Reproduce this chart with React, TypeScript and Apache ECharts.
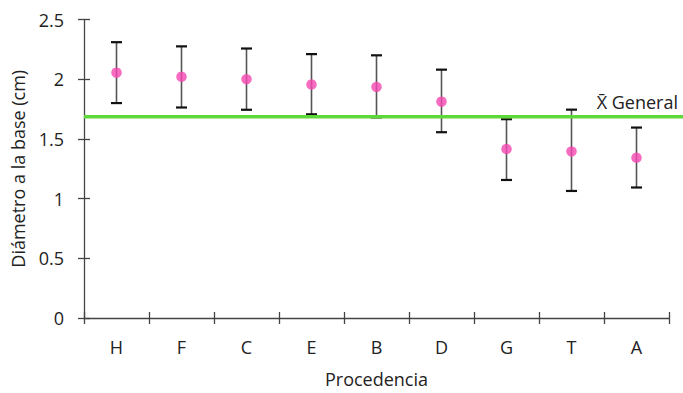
import React, { useEffect, useRef } from "react";
import * as echarts from "echarts";

const categories = ["H", "F", "C", "E", "B", "D", "G", "T", "A"];
const means = [2.055, 2.02, 2.0, 1.955, 1.935, 1.812, 1.415, 1.395, 1.342];
const upper = [2.31, 2.275, 2.257, 2.21, 2.2, 2.08, 1.665, 1.745, 1.595];
const lower = [1.8, 1.763, 1.744, 1.706, 1.68, 1.556, 1.156, 1.064, 1.093];
const generalMean = 1.685;
const yTicks = { min: 0, max: 2.5, interval: 0.5 };

const FONT = "Open Sans";
const FS = 18;

export default function App() {
  const ref = useRef<HTMLDivElement>(null);
  useEffect(() => {
    if (!ref.current) return;
    const chart = echarts.init(ref.current, null, { renderer: "svg" });
    const axisColor = "#444";
    const errData = categories.map((c, i) => [i, lower[i], upper[i]]);
    const baseX = {
      type: "category" as const,
      data: categories,
      boundaryGap: true,
    };
    const baseY = {
      type: "value" as const,
      min: yTicks.min,
      max: yTicks.max,
      interval: yTicks.interval,
      splitLine: { show: false },
    };
    chart.setOption({
      animation: false,
      textStyle: { fontFamily: FONT },
      grid: { left: 84, top: 19.5, right: 14, bottom: 67.5, containLabel: false },
      xAxis: [
        {
          ...baseX,
          axisLine: { lineStyle: { color: axisColor, width: 1.3 } },
          axisTick: { show: true, length: 6, lineStyle: { color: axisColor, width: 1.3 } },
          axisLabel: { color: "#222", fontSize: FS, margin: 20, fontFamily: FONT },
          name: "Procedencia",
          nameLocation: "middle",
          nameGap: 52,
          nameTextStyle: { color: "#222", fontSize: FS, fontFamily: FONT },
        },
        {
          ...baseX,
          position: "bottom",
          axisLine: { show: false },
          axisTick: { show: true, inside: true, length: 6, lineStyle: { color: axisColor, width: 1.3 } },
          axisLabel: { show: false },
        },
      ],
      yAxis: [
        {
          ...baseY,
          axisLine: { show: true, lineStyle: { color: axisColor, width: 1.3 } },
          axisTick: { show: true, length: 6, lineStyle: { color: axisColor, width: 1.3 } },
          axisLabel: { color: "#222", fontSize: FS, margin: 20, fontFamily: FONT },
        },
        {
          ...baseY,
          position: "left",
          axisLine: { show: false },
          axisTick: { show: true, inside: true, length: 6, lineStyle: { color: axisColor, width: 1.3 } },
          axisLabel: { show: false },
        },
      ],
      series: [
        {
          type: "custom",
          xAxisIndex: 0,
          yAxisIndex: 0,
          data: errData,
          renderItem: (params: any, api: any) => {
            const x = api.value(0);
            const lo = api.coord([x, api.value(1)]);
            const hi = api.coord([x, api.value(2)]);
            const hw = 5.5;
            return {
              type: "group",
              children: [
                {
                  type: "line",
                  shape: { x1: lo[0], y1: lo[1], x2: hi[0], y2: hi[1] },
                  style: { stroke: "#555", lineWidth: 1.6 },
                },
                {
                  type: "line",
                  shape: { x1: hi[0] - hw, y1: hi[1], x2: hi[0] + hw, y2: hi[1] },
                  style: { stroke: "#111", lineWidth: 2.2 },
                },
                {
                  type: "line",
                  shape: { x1: lo[0] - hw, y1: lo[1], x2: lo[0] + hw, y2: lo[1] },
                  style: { stroke: "#111", lineWidth: 2.2 },
                },
              ],
            };
          },
          z: 2,
        },
        {
          type: "scatter",
          data: means.map((m, i) => [i, m]),
          symbol: "circle",
          symbolSize: 10.5,
          itemStyle: { color: "#F546B1" },
          z: 5,
        },
      ],
    });

    const y = chart.convertToPixel({ yAxisIndex: 0 }, generalMean) as number;
    const c0 = chart.convertToPixel({ xAxisIndex: 0 }, categories[0]) as number;
    const c1 = chart.convertToPixel({ xAxisIndex: 0 }, categories[1]) as number;
    const x0 = c0 - (c1 - c0) / 2;
    const w = chart.getWidth();
    const yTop = chart.convertToPixel({ yAxisIndex: 0 }, yTicks.max) as number;
    const yBot = chart.convertToPixel({ yAxisIndex: 0 }, yTicks.min) as number;
    chart.setOption({
      graphic: [
        {
          type: "line",
          z: 4,
          shape: { x1: x0, y1: y, x2: w, y2: y },
          style: { stroke: "#5FD83A", lineWidth: 3.6 },
        },
        {
          type: "text",
          z: 4,
          x: w - 5,
          y: y - 15,
          style: {
            text: "X\u0304 General",
            fill: "#222",
            fontSize: FS,
            fontFamily: FONT,
            align: "right",
            verticalAlign: "middle",
          },
        },
        {
          type: "text",
          x: 18,
          y: (yTop + yBot) / 2,
          rotation: Math.PI / 2,
          style: {
            text: "Diámetro a la base (cm)",
            fill: "#222",
            fontSize: FS,
            fontFamily: FONT,
            align: "center",
            verticalAlign: "middle",
          },
        },
      ],
    });
    return () => chart.dispose();
  }, []);
  return <div ref={ref} style={{ width: 683, height: 393, position: "absolute", left: 0, top: 0 }} />;
}
